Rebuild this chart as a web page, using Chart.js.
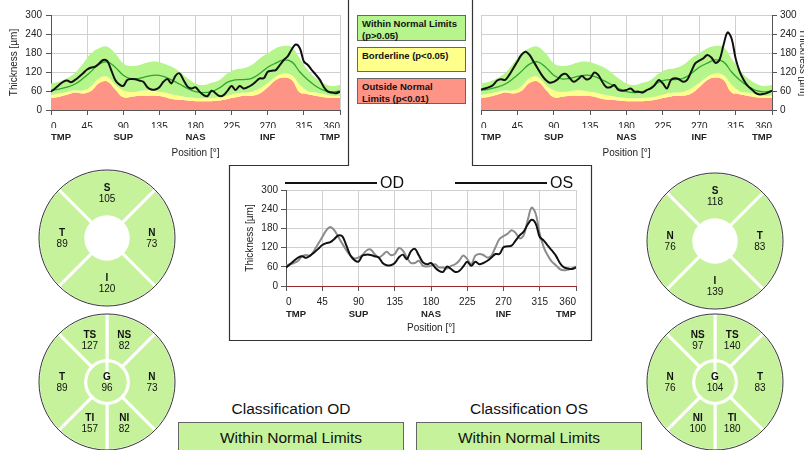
<!DOCTYPE html>
<html>
<head>
<meta charset="utf-8">
<script src="https://cdn.jsdelivr.net/npm/chart.js@4.4.1/dist/chart.umd.min.js"></script>
<style>
html, body { margin: 0; padding: 0; background: #fff; overflow: hidden; width: 804px; height: 450px;
  font-family: "Liberation Sans", Arial, sans-serif; color: #111; }
canvas { position: absolute; }
.key { position: absolute; left: 357px; width: 109px; border: 1px solid #666; box-sizing: border-box;
  font-weight: bold; font-size: 9.5px; line-height: 11.5px; padding: 2px 0 0 4px; }
.cls-title { position: absolute; top: 400px; width: 226px; text-align: center; font-size: 15.5px; }
.cls-box { position: absolute; top: 422px; width: 226px; height: 32px; box-sizing: border-box;
  border: 1px solid #666; background: #c6f29b; text-align: center; font-size: 15.5px; line-height: 30px; }
svg { position: absolute; left: 0; top: 0; }
</style>
</head>
<body>
<svg width="804" height="450">
  <polyline points="348.5,0 348.5,165.5 229.5,165.5 229.5,340.5 591.5,340.5 591.5,165.5 472.5,165.5 472.5,0"
    fill="none" stroke="#333" stroke-width="1.2"/>
</svg>

<canvas id="od-profile" width="348" height="162" style="left:0;top:0"></canvas>
<canvas id="os-profile" width="340" height="162" style="left:472px;top:0"></canvas>
<canvas id="both-profile" width="356" height="170" style="left:232px;top:168px"></canvas>

<div class="key" style="top:15px;height:26px;background:#b6f48c">Within Normal Limits<br>(p&gt;0.05)</div>
<div class="key" style="top:47px;height:25px;background:#ffff8c">Borderline (p&lt;0.05)</div>
<div class="key" style="top:78px;height:26px;background:#fe9486">Outside Normal<br>Limits (p&lt;0.01)</div>

<canvas id="od-quad" width="140" height="140" style="left:37px;top:168px"></canvas>
<canvas id="os-quad" width="140" height="140" style="left:645px;top:171px"></canvas>
<canvas id="od-sect" width="140" height="140" style="left:37px;top:312px"></canvas>
<canvas id="os-sect" width="140" height="140" style="left:645px;top:312px"></canvas>

<div class="cls-title" style="left:178px">Classification OD</div>
<div class="cls-box" style="left:178px">Within Normal Limits</div>
<div class="cls-title" style="left:416px">Classification OS</div>
<div class="cls-box" style="left:416px">Within Normal Limits</div>

<script>
// positions along the scan circle [deg]
const angles = [0, 5, 10, 15, 20, 25, 30, 35, 40, 45, 50, 55, 60, 65, 70, 75, 80, 85, 90, 95,
  100, 105, 110, 115, 120, 125, 130, 135, 140, 145, 150, 155, 160, 165, 170, 175, 180, 185, 190, 195,
  200, 205, 210, 215, 220, 225, 230, 235, 240, 245, 250, 255, 260, 265, 270, 275, 280, 285, 290, 295,
  300, 305, 310, 315, 320, 325, 330, 335, 340, 345, 350, 355, 360];

// measured RNFL thickness [µm]
const odThickness = [58, 68, 79, 89, 93, 88, 95, 105, 116, 128, 134, 137, 147, 158, 155, 126, 95, 81, 76, 95,
  98, 97, 93, 89, 72, 65, 65, 72, 89, 98, 84, 108, 116, 95, 74, 68, 72, 58, 47, 44,
  61, 53, 44, 47, 61, 76, 63, 76, 68, 72, 79, 89, 100, 100, 121, 124, 126, 142, 158, 170,
  192, 207, 195, 153, 142, 126, 111, 95, 72, 58, 55, 53, 58];
const osThickness = [65, 68, 72, 79, 93, 97, 95, 111, 132, 153, 174, 184, 174, 153, 132, 111, 95, 86, 89, 97,
  111, 114, 100, 89, 97, 107, 97, 100, 118, 111, 89, 72, 72, 79, 63, 61, 63, 68, 58, 58,
  55, 63, 68, 79, 95, 84, 68, 95, 100, 97, 89, 95, 121, 147, 156, 163, 174, 166, 149, 158,
  205, 245, 226, 163, 121, 95, 76, 65, 53, 49, 51, 55, 61];

// normative database
const normAngles = [0, 10, 20, 30, 40, 50, 60, 70, 80, 90, 100, 110, 120, 130, 140, 150, 160, 170, 180,
  190, 200, 210, 220, 230, 240, 250, 260, 270, 280, 290, 300, 310, 320, 330, 340, 350, 360];
const normMean = [62, 66, 72, 82, 100, 122, 145, 152, 135, 110, 98, 100, 106, 110, 106, 95, 82, 68, 58,
  55, 58, 70, 88, 95, 96, 100, 115, 135, 148, 158, 152, 120, 95, 75, 62, 57, 60];
const normWithin = [84, 89, 100, 118, 147, 179, 195, 200, 179, 147, 139, 142, 150, 153, 147, 137, 121, 100, 84,
  79, 86, 95, 116, 128, 132, 142, 163, 179, 195, 202, 198, 163, 126, 100, 84, 76, 79];
const normBorderline = [48, 52, 58, 62, 62, 75, 100, 105, 80, 62, 58, 60, 62, 60, 56, 50, 45, 40, 38,
  37, 38, 40, 45, 52, 55, 58, 68, 85, 105, 115, 110, 80, 60, 55, 50, 45, 45];
const normOutside = [38, 42, 48, 55, 52, 60, 85, 90, 65, 40, 42, 45, 45, 45, 42, 35, 32, 30, 28,
  28, 28, 30, 35, 40, 45, 45, 52, 72, 95, 103, 95, 55, 50, 45, 40, 38, 38];

const xTicks = [0, 45, 90, 135, 180, 225, 270, 315, 360];
const yTicks = [0, 60, 120, 180, 240, 300];
const regionAngles = [0, 90, 180, 270, 360];
const regionNames = ['TMP', 'SUP', 'NAS', 'INF', 'TMP'];

// sector thickness [µm]
const odQuadNames = ['S', 'N', 'I', 'T'];
const odQuadValues = [105, 73, 120, 89];
const osQuadNames = ['S', 'T', 'I', 'N'];
const osQuadValues = [118, 83, 139, 76];
const quadSpans = [90, 90, 90, 90];

const odSectNames = ['NS', 'N', 'NI', 'TI', 'T', 'TS'];
const odSectValues = [82, 73, 82, 157, 89, 127];
const osSectNames = ['TS', 'T', 'TI', 'NI', 'N', 'NS'];
const osSectValues = [140, 83, 180, 100, 76, 97];
const sectSpans = [45, 90, 45, 45, 90, 45];
const odGlobal = 96;
const osGlobal = 104;

const FONT = '"Liberation Sans", Arial, sans-serif';
Chart.defaults.font.family = FONT;
Chart.defaults.font.size = 10;
Chart.defaults.color = '#222';

const GREEN = '#b6f48c';
const YELLOW = '#ffff8c';
const RED = '#fe9486';
const SECTOR_GREEN = '#c6f29b';

function pts(xs, ys) {
    return xs.map((x, i) => ({ x: x, y: ys[i] }));
}

function bandSets() {
    const base = { pointRadius: 0, borderWidth: 0, tension: 0.4 };
    return [
        Object.assign({ label: 'Outside', data: pts(normAngles, normOutside), backgroundColor: RED, fill: 'origin', order: 5 }, base),
        Object.assign({ label: 'Borderline', data: pts(normAngles, normBorderline), backgroundColor: YELLOW, fill: '-1', order: 4 }, base),
        Object.assign({ label: 'Within', data: pts(normAngles, normWithin), backgroundColor: GREEN, fill: '-1', order: 3 }, base),
        { label: 'Mean', data: pts(normAngles, normMean), borderColor: '#2fa52f', borderWidth: 1.3,
          pointRadius: 0, tension: 0.4, fill: false, order: 2 }
    ];
}

// lays out one TSNIT profile chart; g holds the pixel geometry of its axes
function profileChart(id, datasets, g, plugins, extra) {
    return new Chart(document.getElementById(id), {
        type: 'line',
        data: { datasets: datasets },
        plugins: plugins || [],
        options: {
            responsive: false,
            animation: false,
            layout: { padding: g.padding },
            plugins: Object.assign({ legend: { display: false }, tooltip: { enabled: false } }, extra || {}),
            scales: {
                x: {
                    type: 'linear', min: 0, max: 360, position: 'bottom',
                    afterBuildTicks: s => { s.ticks = xTicks.map(v => ({ value: v })); },
                    afterFit: s => { s.height = g.xH; },
                    grid: { color: '#d0d0d0', tickColor: '#555', tickLength: 5 },
                    border: { color: g.xBorder || '#555' },
                    ticks: { align: 'inner', maxRotation: 0, autoSkip: false, padding: g.xPad }
                },
                x2: {
                    type: 'linear', min: 0, max: 360, position: 'bottom',
                    afterBuildTicks: s => { s.ticks = regionAngles.map(v => ({ value: v })); },
                    afterFit: s => { s.height = g.x2H; },
                    grid: { display: false, drawTicks: false },
                    border: { display: false },
                    ticks: {
                        align: 'inner', maxRotation: 0, autoSkip: false, padding: g.x2Pad,
                        font: { weight: 'bold', size: 9.5 },
                        callback: v => regionNames[regionAngles.indexOf(v)]
                    },
                    title: { display: true, text: 'Position [°]', padding: { top: 0, bottom: g.titlePad } }
                },
                y: {
                    min: 0, max: 300, position: g.yPos,
                    afterBuildTicks: s => { s.ticks = yTicks.map(v => ({ value: v })); },
                    afterFit: s => { s.width = g.yW; },
                    grid: { color: '#d0d0d0', tickColor: '#555', tickLength: 5 },
                    border: { color: '#555' },
                    ticks: { padding: g.yPad },
                    title: { display: true, text: 'Thickness [µm]', padding: { top: g.yTitlePad, bottom: 0 } }
                }
            }
        }
    });
}

profileChart('od-profile', [
    ...bandSets(),
    { label: 'OD', data: pts(angles, odThickness), borderColor: '#111', borderWidth: 2, pointRadius: 0, tension: 0.35, fill: false, order: 1 }
], { padding: { left: 0, top: 15, right: 8, bottom: 0 }, xH: 18, xPad: 6, x2H: 34, x2Pad: 4, titlePad: 3,
     yPos: 'left', yW: 51, yPad: 4, yTitlePad: 8 });

profileChart('os-profile', [
    ...bandSets(),
    { label: 'OS', data: pts(angles, osThickness), borderColor: '#111', borderWidth: 2, pointRadius: 0, tension: 0.35, fill: false, order: 1 }
], { padding: { left: 9, top: 15, right: 0, bottom: 0 }, xH: 18, xPad: 6, x2H: 34, x2Pad: 4, titlePad: 3,
     yPos: 'right', yW: 40, yPad: 3, yTitlePad: 3 });

// "———— OD   ———— OS" key above the comparison plot
const lineKey = {
    id: 'lineKey',
    afterDraw(chart, args, o) {
        const { ctx, chartArea } = chart;
        ctx.save();
        ctx.font = '16px ' + FONT;
        ctx.textBaseline = 'middle';
        ctx.fillStyle = '#111';
        chart.data.datasets.forEach((ds, i) => {
            const x = chartArea.left + o.starts[i];
            ctx.fillRect(x, o.y - 1, o.length, 2);
            ctx.fillText(ds.label, x + o.length + 3, o.y + 1);
        });
        ctx.restore();
    }
};

profileChart('both-profile', [
    { label: 'OD', data: pts(angles, odThickness), borderColor: '#111', borderWidth: 2, pointRadius: 0, tension: 0.35, fill: false },
    { label: 'OS', data: pts(angles, osThickness), borderColor: '#8c8c8c', borderWidth: 2, pointRadius: 0, tension: 0.35, fill: false }
], { padding: { left: 0, top: 22, right: 12, bottom: 0 }, xH: 22, xPad: 5, x2H: 30, x2Pad: 1, titlePad: 4,
     yPos: 'left', yW: 54, yPad: 3, yTitlePad: 12, xBorder: '#9a2a2a' },
   [lineKey], { lineKey: { starts: [-1, 169], length: 92, y: 15 } });

// sector names and thickness written into each arc, plus the outer rim
const sectorLabels = {
    id: 'sectorLabels',
    afterDatasetsDraw(chart, args, o) {
        const ctx = chart.ctx;
        const ring = chart.getDatasetMeta(0).data;
        const put = (name, value, x, y) => {
            ctx.font = 'bold 10px ' + FONT;
            ctx.fillText(name, x, y - 5);
            ctx.font = '10px ' + FONT;
            ctx.fillText(String(value), x, y + 6);
        };
        ctx.save();
        ctx.textAlign = 'center';
        ctx.textBaseline = 'middle';
        ctx.fillStyle = '#111';
        ring.forEach((arc, i) => {
            const p = arc.tooltipPosition();
            put(o.names[i], o.values[i], p.x, p.y);
        });
        if (o.center != null) put('G', o.center, ring[0].x, ring[0].y);
        ctx.beginPath();
        ctx.arc(ring[0].x, ring[0].y, ring[0].outerRadius - 0.5, 0, Math.PI * 2);
        ctx.strokeStyle = '#333';
        ctx.lineWidth = 1;
        ctx.stroke();
        ctx.restore();
    }
};

function quadChart(id, names, values, rotation) {
    return new Chart(document.getElementById(id), {
        type: 'doughnut',
        data: {
            labels: names,
            datasets: [{ data: quadSpans, backgroundColor: SECTOR_GREEN, borderColor: '#fff', borderWidth: 3 }]
        },
        plugins: [sectorLabels],
        options: {
            responsive: false, animation: false, rotation: rotation, cutout: '31%',
            plugins: { legend: { display: false }, tooltip: { enabled: false },
                       sectorLabels: { names: names, values: values, center: null } }
        }
    });
}

function sectChart(id, names, values, global) {
    return new Chart(document.getElementById(id), {
        type: 'pie',
        data: {
            labels: names,
            datasets: [
                { data: sectSpans, weight: 2.2, backgroundColor: SECTOR_GREEN, borderColor: '#fff', borderWidth: 3 },
                { data: [360], weight: 1, backgroundColor: SECTOR_GREEN, borderColor: '#fff', borderWidth: 3 }
            ]
        },
        plugins: [sectorLabels],
        options: {
            responsive: false, animation: false, rotation: 0,
            plugins: { legend: { display: false }, tooltip: { enabled: false },
                       sectorLabels: { names: names, values: values, center: global } }
        }
    });
}

quadChart('od-quad', odQuadNames, odQuadValues, -45);
quadChart('os-quad', osQuadNames, osQuadValues, -45);
sectChart('od-sect', odSectNames, odSectValues, odGlobal);
sectChart('os-sect', osSectNames, osSectValues, osGlobal);
</script>
</body>
</html>
